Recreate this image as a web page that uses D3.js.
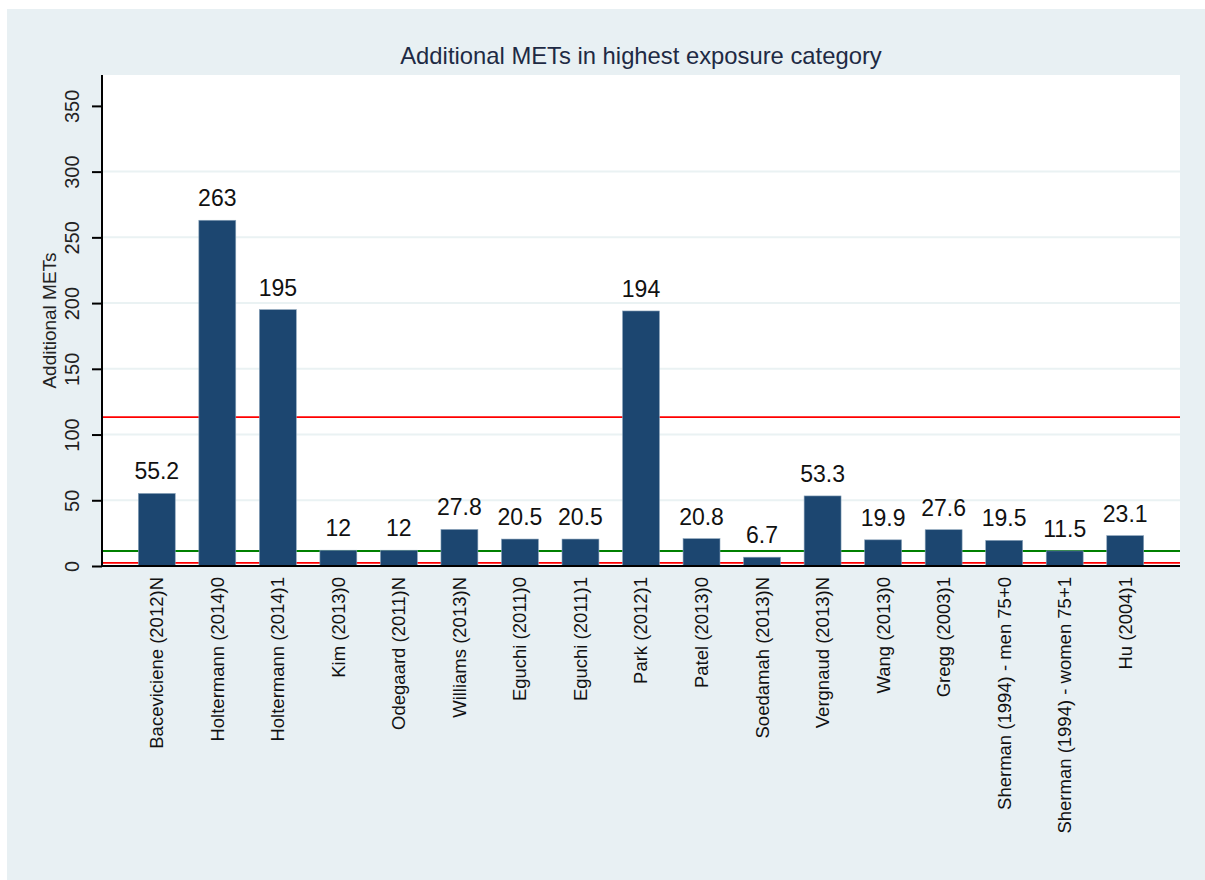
<!DOCTYPE html>
<html><head><meta charset="utf-8">
<script src="https://cdn.jsdelivr.net/npm/d3@7"></script>
<style>body{margin:0;background:#fff;}svg{display:block;font-family:Arial,"Liberation Sans",sans-serif;}</style>
</head><body>
<svg id="c" width="1205" height="880"></svg>
<script>
const categories = ["Baceviciene (2012)N","Holtermann (2014)0","Holtermann (2014)1","Kim (2013)0","Odegaard (2011)N","Williams (2013)N","Eguchi (2011)0","Eguchi (2011)1","Park (2012)1","Patel (2013)0","Soedamah (2013)N","Vergnaud (2013)N","Wang (2013)0","Gregg (2003)1","Sherman (1994) - men 75+0","Sherman (1994) - women 75+1","Hu (2004)1"];
const values = [55.2,263,195,12,12,27.8,20.5,20.5,194,20.8,6.7,53.3,19.9,27.6,19.5,11.5,23.1];
const valueLabels = ["55.2","263","195","12","12","27.8","20.5","20.5","194","20.8","6.7","53.3","19.9","27.6","19.5","11.5","23.1"];
const yTicks = [0,50,100,150,200,250,300,350];
const gridTicks = [50,100,150,200,250,300];
const refLines = [{v:113.3,c:"#ff0000"},{v:11.4,c:"#008000"},{v:2.4,c:"#ff0000"}];
const title = "Additional METs in highest exposure category";
const yTitle = "Additional METs";

const svg = d3.select("#c");
svg.append("rect").attr("x",7).attr("y",9).attr("width",1198).attr("height",871).attr("fill","#e8f0f3");
const L=102,R=1180,T=75,B=566;
svg.append("rect").attr("x",L).attr("y",T).attr("width",R-L).attr("height",B-T).attr("fill","#fff");

const x = d3.scaleBand().domain(categories).range([L,R]).paddingInner(0.39).paddingOuter(0.6);
const y = d3.scaleLinear().domain([0,373.5]).range([B,T]);

svg.append("g").selectAll("line").data(gridTicks).join("line")
  .attr("x1",L).attr("x2",R).attr("y1",d=>y(d)).attr("y2",d=>y(d))
  .attr("stroke","#eaf2f3").attr("stroke-width",2);

svg.append("g").selectAll("line").data(refLines).join("line")
  .attr("x1",L).attr("x2",R).attr("y1",d=>y(d.v)).attr("y2",d=>y(d.v))
  .attr("stroke",d=>d.c).attr("stroke-width",1.8);

svg.append("g").selectAll("rect").data(values).join("rect")
  .attr("x",(d,i)=>x(categories[i])).attr("width",x.bandwidth())
  .attr("y",d=>y(d)).attr("height",d=>B-y(d))
  .attr("fill","#1c4670").attr("stroke","#8aa3ba").attr("stroke-width",0.6);

svg.append("g").selectAll("text").data(values).join("text")
  .attr("x",(d,i)=>x(categories[i])+x.bandwidth()/2).attr("y",d=>y(d)-14)
  .attr("text-anchor","middle").attr("font-size",23).attr("fill","#111")
  .text((d,i)=>valueLabels[i]);

// axes
const ya = svg.append("g").attr("transform",`translate(${L},0)`)
  .call(d3.axisLeft(y).tickValues(yTicks).tickSize(10).tickPadding(0).tickFormat(d3.format("d")));
ya.select(".domain").attr("d",`M0,${T}V${B}`).attr("stroke","#000").attr("stroke-width",2);
ya.selectAll(".tick line").attr("stroke","#000").attr("stroke-width",2);
ya.selectAll(".tick text").attr("transform","rotate(-90)").attr("x",0).attr("y",-23).attr("dy","0")
  .attr("text-anchor","middle").attr("font-size",20).attr("fill","#222").attr("font-family","Arial, Liberation Sans, sans-serif");

const xa = svg.append("g").attr("transform",`translate(0,${B})`)
  .call(d3.axisBottom(x).tickSize(0).tickPadding(0));
xa.select(".domain").attr("d",`M${L-1},0H${R}`).attr("stroke","#000").attr("stroke-width",2);
xa.selectAll(".tick text").attr("transform","rotate(-90)").attr("x",-11).attr("y",0).attr("dy","0.35em")
  .attr("text-anchor","end").attr("font-size",18.5).attr("fill","#111").attr("font-family","Arial, Liberation Sans, sans-serif");

svg.append("text").attr("x",(L+R)/2).attr("y",64).attr("text-anchor","middle")
  .attr("font-size",23.8).attr("fill","#1e2a44").text(title);
svg.append("text").attr("transform",`translate(56,${(T+B)/2}) rotate(-90)`).attr("text-anchor","middle")
  .attr("font-size",19).attr("fill","#222").text(yTitle);
</script>
</body></html>
